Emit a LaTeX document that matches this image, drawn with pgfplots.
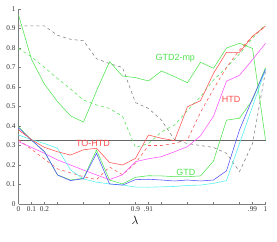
\documentclass[border=0pt]{standalone}
\usepackage{fontspec}
\setmainfont{Liberation Serif}
\newfontfamily\labfont{Liberation Sans}
\usepackage{pgfplots}
\pgfplotsset{compat=1.18}
\definecolor{cgreen}{RGB}{80,228,80}
\definecolor{cred}{RGB}{255,80,80}
\definecolor{cblue}{RGB}{80,80,255}
\definecolor{ccyan}{RGB}{80,240,240}
\definecolor{cmag}{RGB}{255,80,255}
\definecolor{cgrey}{RGB}{125,125,125}
\begin{document}
\begin{tikzpicture}
\begin{axis}[
  scale only axis, width=247bp, height=195bp,
  xmin=0, xmax=19, ymin=0, ymax=1,
  axis x line*=bottom, axis y line*=left,
  axis line style={cgrey, line width=0.5pt},
  tick align=inside, major tick length=2bp,
  tick style={cgrey, line width=0.4pt},
  xtick={0,1,2,9,10,18,19},
  xticklabels={0,0.1,0.2,0.9,.91,.99,1},
  extra x ticks={3,5,7,11,13,15,17},
  extra x tick labels={},
  ytick={0,0.1,...,1.0},
  yticklabels={0,0.1,0.2,0.3,0.4,0.5,0.6,0.7,0.8,0.9,1},
  ticklabel style={font=\fontsize{7.3}{8}\selectfont, text=black!80},
  xticklabel style={yshift=1bp},
  yticklabel style={xshift=0.5bp},
  /pgf/number format/assume math mode=true,
  xlabel={$\lambda$}, xlabel style={font=\fontsize{11.5}{12}\selectfont, yshift=2bp, xshift=-7bp},
  every axis plot/.append style={line width=0.55pt, mark=none},
  clip=false,
]
% horizontal reference line
\addplot[black!60, line width=0.55pt] coordinates {(0,0.328) (19,0.328)};
% grey dashed
\addplot[cgrey, dashed] coordinates {(0,0.913)(1,0.913)(2,0.913)(3,0.865)(4,0.845)(5,0.837)(6,0.745)(7,0.72)(8,0.70)(9,0.52)(10,0.49)(11,0.43)(12,0.33)(13,0.31)(14,0.30)(15,0.29)(16,0.26)(17,0.166)(18,0.31)(19,0.68)};
% GTD2-mp green solid
\addplot[cgreen] coordinates {(0,0.97)(1,0.742)(2,0.614)(3,0.525)(4,0.452)(5,0.42)(6,0.58)(7,0.73)(8,0.656)(9,0.648)(10,0.631)(11,0.682)(12,0.653)(13,0.622)(14,0.727)(15,0.696)(16,0.80)(17,0.824)(18,0.798)(19,0.33)};
% green dashed
\addplot[cgreen, dashed] coordinates {(0,0.798)(1,0.755)(2,0.70)(3,0.644)(4,0.59)(5,0.533)(6,0.508)(7,0.49)(8,0.45)(9,0.29)(10,0.31)(11,0.37)(12,0.405)(13,0.48)(14,0.55)(15,0.636)(16,0.70)(17,0.77)(18,0.85)(19,0.92)};
% red dashed
\addplot[cred, dashed] coordinates {(0,0.33)(1,0.28)(2,0.23)(3,0.18)(4,0.16)(5,0.14)(6,0.125)(7,0.19)(8,0.15)(9,0.21)(10,0.30)(11,0.30)(12,0.311)(13,0.33)(14,0.47)(15,0.59)(16,0.70)(17,0.79)(18,0.86)(19,0.91)};
% magenta
\addplot[cmag] coordinates {(0,0.32)(1,0.29)(2,0.26)(3,0.226)(4,0.20)(5,0.174)(6,0.149)(7,0.125)(8,0.15)(9,0.217)(10,0.232)(11,0.243)(12,0.268)(13,0.294)(14,0.35)(15,0.45)(16,0.63)(17,0.66)(18,0.74)(19,0.824)};
% cyan
\addplot[ccyan] coordinates {(0,0.354)(1,0.33)(2,0.31)(3,0.286)(4,0.175)(5,0.128)(6,0.112)(7,0.103)(8,0.097)(9,0.087)(10,0.086)(11,0.088)(12,0.09)(13,0.095)(14,0.097)(15,0.106)(16,0.12)(17,0.31)(18,0.50)(19,0.69)};
% GTD green low
\addplot[cgreen] coordinates {(0,0.396)(1,0.328)(2,0.268)(3,0.149)(4,0.123)(5,0.132)(6,0.277)(7,0.123)(8,0.103)(9,0.137)(10,0.145)(11,0.144)(12,0.14)(13,0.14)(14,0.144)(15,0.22)(16,0.43)(17,0.44)(18,0.533)(19,0.70)};
% blue
\addplot[cblue] coordinates {(0,0.39)(1,0.328)(2,0.268)(3,0.149)(4,0.12)(5,0.13)(6,0.26)(7,0.103)(8,0.097)(9,0.125)(10,0.127)(11,0.123)(12,0.118)(13,0.123)(14,0.118)(15,0.123)(16,0.17)(17,0.38)(18,0.54)(19,0.69)};
% red solid (HTD)
\addplot[cred] coordinates {(0,0.38)(1,0.33)(2,0.29)(3,0.268)(4,0.251)(5,0.278)(6,0.286)(7,0.213)(8,0.20)(9,0.234)(10,0.354)(11,0.337)(12,0.325)(13,0.499)(14,0.53)(15,0.67)(16,0.778)(17,0.778)(18,0.86)(19,0.913)};
\node[cgreen, font=\labfont\fontsize{9}{10}\selectfont] at (axis cs:12.06,0.747) {GTD2-mp};
\node[cred, font=\labfont\fontsize{9}{10}\selectfont] at (axis cs:16.35,0.538) {HTD};
\node[cred, font=\labfont\fontsize{9}{10}\selectfont] at (axis cs:5.73,0.313) {TO-HTD};
\node[cgreen, font=\labfont\fontsize{9}{10}\selectfont] at (axis cs:12.88,0.163) {GTD};
\end{axis}
\path (current axis.south west) ++(-18.5bp,-38bp) (current axis.north east) ++(11.5bp,9bp);
\end{tikzpicture}
\end{document}
